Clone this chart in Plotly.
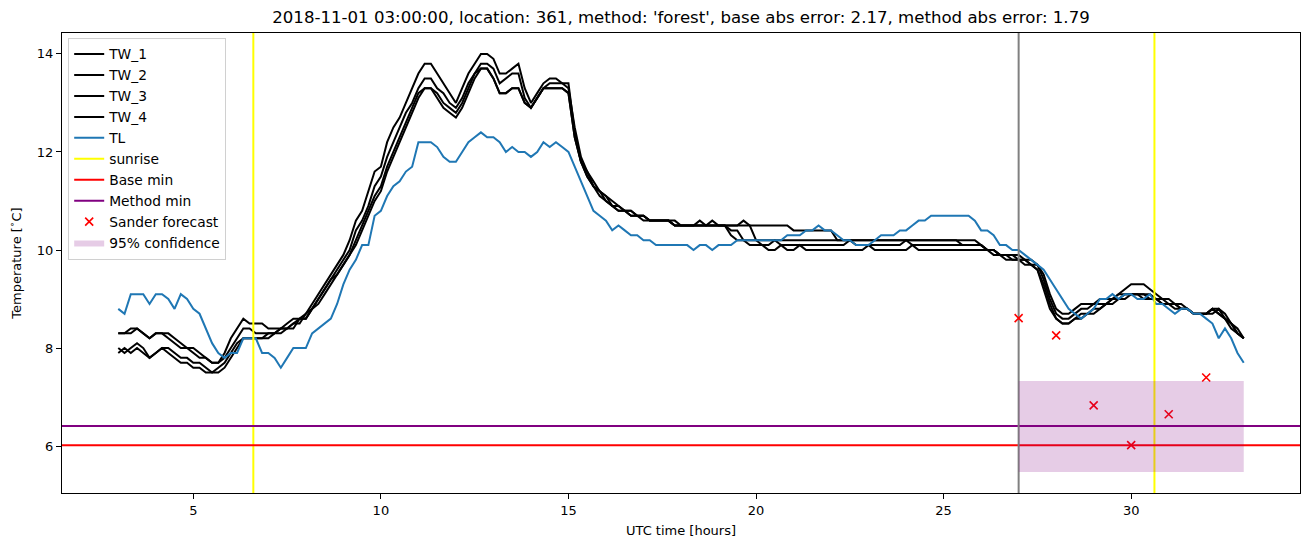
import plotly.graph_objects as go

# ---- time axis: 10-minute samples from 03:00 to 33:00 UTC hours ----
t_start = 3.0
t_step_min = 10

TL = [
    8.8, 8.7, 9.1, 9.1, 9.1, 8.9,
    9.1, 9.1, 9.0, 8.8, 9.1, 9.0,
    8.8, 8.7, 8.4, 8.1, 7.9, 7.8,
    7.9, 7.9, 8.2, 8.2, 8.2, 7.9,
    7.9, 7.8, 7.6, 7.8, 8.0, 8.0,
    8.0, 8.3, 8.4, 8.5, 8.6, 8.9,
    9.3, 9.6, 9.8, 10.1, 10.1, 10.7,
    10.8, 11.1, 11.3, 11.4, 11.6, 11.7,
    12.2, 12.2, 12.2, 12.1, 11.9, 11.8,
    11.8, 12.0, 12.2, 12.3, 12.4, 12.3,
    12.3, 12.2, 12.0, 12.1, 12.0, 12.0,
    11.9, 12.0, 12.2, 12.1, 12.2, 12.1,
    12.0, 11.7, 11.4, 11.1, 10.8, 10.7,
    10.6, 10.4, 10.5, 10.4, 10.3, 10.3,
    10.2, 10.2, 10.1, 10.1, 10.1, 10.1,
    10.1, 10.1, 10.0, 10.1, 10.1, 10.0,
    10.1, 10.1, 10.1, 10.2, 10.2, 10.2,
    10.2, 10.2, 10.2, 10.2, 10.2, 10.3,
    10.3, 10.3, 10.4, 10.4, 10.5, 10.4,
    10.4, 10.3, 10.2, 10.2, 10.1, 10.1,
    10.1, 10.2, 10.3, 10.3, 10.3, 10.4,
    10.4, 10.5, 10.6, 10.6, 10.7, 10.7,
    10.7, 10.7, 10.7, 10.7, 10.7, 10.6,
    10.4, 10.4, 10.3, 10.1, 10.1, 10.0,
    10.0, 9.9, 9.8, 9.7, 9.6, 9.4,
    9.2, 9.0, 8.8, 8.7, 8.6, 8.7,
    8.8, 9.0, 9.0, 9.1, 9.0, 9.1,
    9.1, 9.0, 9.0, 9.1, 8.9, 8.9,
    8.8, 8.7, 8.8, 8.8, 8.7, 8.7,
    8.6, 8.5, 8.2, 8.4, 8.2, 7.9,
    7.7,
]

TW_1 = [
    8.3, 8.3, 8.3, 8.4, 8.3, 8.2,
    8.3, 8.3, 8.2, 8.1, 8.0, 8.0,
    7.9, 7.8, 7.8, 7.7, 7.7, 7.9,
    8.2, 8.4, 8.6, 8.5, 8.5, 8.5,
    8.4, 8.4, 8.4, 8.5, 8.6, 8.6,
    8.7, 8.9, 9.1, 9.3, 9.5, 9.7,
    9.9, 10.2, 10.6, 10.8, 11.2, 11.6,
    11.7, 12.2, 12.5, 12.7, 13.0, 13.3,
    13.6, 13.8, 13.8, 13.6, 13.4, 13.2,
    13.0, 13.3, 13.6, 13.8, 14.0, 14.0,
    13.9, 13.6, 13.6, 13.7, 13.8, 13.3,
    13.0, 13.2, 13.4, 13.5, 13.5, 13.4,
    13.4, 12.4, 11.8, 11.6, 11.3, 11.2,
    11.1, 10.9, 10.9, 10.8, 10.8, 10.7,
    10.7, 10.6, 10.6, 10.6, 10.6, 10.5,
    10.5, 10.5, 10.5, 10.6, 10.5, 10.5,
    10.5, 10.5, 10.5, 10.5, 10.6, 10.5,
    10.5, 10.5, 10.5, 10.5, 10.5, 10.5,
    10.4, 10.4, 10.4, 10.4, 10.4, 10.4,
    10.4, 10.2, 10.2, 10.2, 10.2, 10.2,
    10.2, 10.2, 10.2, 10.2, 10.2, 10.2,
    10.2, 10.2, 10.2, 10.2, 10.2, 10.2,
    10.2, 10.2, 10.2, 10.2, 10.2, 10.2,
    10.1, 10.0, 10.0, 9.9, 9.9, 9.9,
    9.8, 9.8, 9.7, 9.6, 9.2, 8.8,
    8.6, 8.5, 8.5, 8.6, 8.7, 8.7,
    8.8, 8.8, 8.9, 9.0, 9.1, 9.2,
    9.3, 9.3, 9.3, 9.2, 9.1, 9.0,
    9.0, 8.9, 8.9, 8.8, 8.7, 8.7,
    8.7, 8.8, 8.7, 8.6, 8.4, 8.3,
    8.2,
]

TW_2 = [
    8.3, 8.3, 8.4, 8.4, 8.3, 8.2,
    8.3, 8.3, 8.3, 8.2, 8.1, 8.0,
    8.0, 7.9, 7.8, 7.7, 7.7, 7.8,
    8.0, 8.2, 8.4, 8.4, 8.3, 8.3,
    8.3, 8.3, 8.4, 8.4, 8.5, 8.6,
    8.6, 8.8, 9.0, 9.2, 9.4, 9.6,
    9.8, 10.0, 10.4, 10.6, 10.9, 11.3,
    11.5, 11.9, 12.2, 12.5, 12.8, 13.0,
    13.3, 13.5, 13.5, 13.3, 13.2, 13.0,
    12.9, 13.1, 13.4, 13.6, 13.8, 13.8,
    13.7, 13.4, 13.5, 13.6, 13.6, 13.1,
    12.9, 13.1, 13.3, 13.4, 13.4, 13.4,
    13.3, 12.5, 11.9, 11.6, 11.4, 11.2,
    11.1, 11.0, 10.9, 10.8, 10.8, 10.7,
    10.7, 10.6, 10.6, 10.6, 10.6, 10.5,
    10.5, 10.5, 10.5, 10.5, 10.5, 10.6,
    10.5, 10.5, 10.4, 10.4, 10.2, 10.2,
    10.2, 10.2, 10.2, 10.2, 10.2, 10.2,
    10.2, 10.2, 10.2, 10.2, 10.2, 10.2,
    10.2, 10.2, 10.2, 10.2, 10.2, 10.2,
    10.2, 10.2, 10.2, 10.2, 10.2, 10.2,
    10.2, 10.2, 10.2, 10.2, 10.2, 10.2,
    10.2, 10.2, 10.2, 10.1, 10.1, 10.1,
    10.1, 10.0, 10.0, 9.9, 9.8, 9.8,
    9.8, 9.8, 9.7, 9.7, 9.4, 9.0,
    8.7, 8.6, 8.6, 8.7, 8.8, 8.8,
    8.9, 8.9, 8.9, 9.0, 9.0, 9.1,
    9.1, 9.1, 9.1, 9.1, 9.0, 9.0,
    8.9, 8.9, 8.8, 8.8, 8.7, 8.7,
    8.7, 8.8, 8.8, 8.6, 8.5, 8.3,
    8.2,
]

TW_3 = [
    8.0, 7.9, 8.0, 8.1, 8.0, 7.8,
    7.9, 8.0, 8.0, 7.9, 7.8, 7.8,
    7.7, 7.7, 7.6, 7.5, 7.6, 7.7,
    7.9, 8.1, 8.2, 8.2, 8.2, 8.2,
    8.2, 8.3, 8.3, 8.4, 8.5, 8.5,
    8.7, 8.8, 9.0, 9.2, 9.4, 9.5,
    9.7, 9.9, 10.2, 10.5, 10.8, 11.1,
    11.3, 11.7, 12.0, 12.3, 12.6, 12.9,
    13.2, 13.3, 13.3, 13.2, 13.0, 12.9,
    12.8, 13.0, 13.3, 13.6, 13.7, 13.7,
    13.5, 13.2, 13.2, 13.3, 13.3, 13.0,
    12.9, 13.1, 13.3, 13.3, 13.3, 13.3,
    13.2, 12.3, 11.8, 11.5, 11.3, 11.2,
    11.0, 10.9, 10.8, 10.8, 10.7, 10.7,
    10.7, 10.6, 10.6, 10.6, 10.6, 10.5,
    10.5, 10.5, 10.5, 10.5, 10.5, 10.5,
    10.5, 10.5, 10.3, 10.2, 10.2, 10.1,
    10.1, 10.1, 10.1, 10.2, 10.1, 10.1,
    10.1, 10.1, 10.1, 10.1, 10.1, 10.1,
    10.1, 10.1, 10.1, 10.2, 10.1, 10.1,
    10.1, 10.1, 10.1, 10.1, 10.1, 10.1,
    10.2, 10.1, 10.1, 10.1, 10.1, 10.1,
    10.1, 10.1, 10.1, 10.1, 10.1, 10.1,
    10.1, 10.0, 9.9, 9.9, 9.9, 9.8,
    9.8, 9.7, 9.7, 9.6, 9.3, 8.9,
    8.6, 8.5, 8.5, 8.6, 8.6, 8.7,
    8.7, 8.8, 8.9, 8.9, 9.0, 9.0,
    9.1, 9.1, 9.1, 9.0, 9.0, 8.9,
    8.9, 8.9, 8.8, 8.8, 8.7, 8.7,
    8.7, 8.7, 8.8, 8.7, 8.5, 8.4,
    8.2,
]

TW_4 = [
    7.9, 8.0, 7.9, 8.0, 7.9, 7.8,
    7.9, 8.0, 7.9, 7.8, 7.7, 7.7,
    7.6, 7.6, 7.5, 7.5, 7.5, 7.6,
    7.8, 8.0, 8.2, 8.2, 8.2, 8.2,
    8.3, 8.3, 8.4, 8.4, 8.4, 8.6,
    8.6, 8.8, 8.9, 9.1, 9.3, 9.5,
    9.7, 9.9, 10.1, 10.4, 10.7, 11.0,
    11.2, 11.6, 11.9, 12.2, 12.5, 12.8,
    13.1, 13.3, 13.3, 13.1, 12.9, 12.8,
    12.7, 12.9, 13.2, 13.5, 13.7, 13.7,
    13.5, 13.2, 13.2, 13.3, 13.3, 13.0,
    12.9, 13.1, 13.3, 13.3, 13.3, 13.3,
    13.2, 12.3, 11.8, 11.5, 11.3, 11.1,
    11.0, 10.9, 10.8, 10.8, 10.7, 10.7,
    10.6, 10.6, 10.6, 10.6, 10.6, 10.6,
    10.5, 10.5, 10.5, 10.5, 10.5, 10.5,
    10.5, 10.5, 10.5, 10.5, 10.5, 10.5,
    10.2, 10.1, 10.0, 10.0, 10.1, 10.0,
    10.0, 10.1, 10.0, 10.0, 10.0, 10.0,
    10.0, 10.0, 10.0, 10.0, 10.0, 10.0,
    10.1, 10.0, 10.0, 10.0, 10.0, 10.0,
    10.0, 10.1, 10.0, 10.0, 10.0, 10.0,
    10.0, 10.0, 10.0, 10.0, 10.0, 10.0,
    10.0, 10.0, 10.0, 9.9, 9.9, 9.9,
    9.9, 9.8, 9.8, 9.7, 9.5, 9.1,
    8.8, 8.7, 8.7, 8.8, 8.9, 8.9,
    8.9, 9.0, 9.0, 9.0, 9.1, 9.1,
    9.1, 9.1, 9.0, 9.0, 9.0, 8.9,
    8.9, 8.8, 8.8, 8.8, 8.7, 8.7,
    8.7, 8.8, 8.7, 8.6, 8.5, 8.3,
    8.2,
]

# ---- event markers ----
sunrise_hours = [6.6, 30.62]
forecast_time = 27.0
base_min = 6.02
method_min = 6.41

# ---- Sander forecast points ----
forecast_hours = [27, 28, 29, 30, 31, 32]
forecast_temps = [8.61, 8.26, 6.83, 6.02, 6.65, 7.40]

# ---- 95% confidence band ----
conf_start = 27.0
conf_end = 33.0
conf_low = 5.47
conf_high = 7.33

title_text = ("2018-11-01 03:00:00, location: 361, method: 'forest', "
              "base abs error: 2.17, method abs error: 1.79")

# ---------------------------------------------------------------
times = [t_start + i * t_step_min / 60.0 for i in range(len(TL))]

all_y = TL + TW_1 + TW_2 + TW_3 + TW_4 + [conf_low, conf_high] + forecast_temps
y_lo, y_hi = min(all_y), max(all_y)
y_pad = 0.05 * (y_hi - y_lo)
y_range = [y_lo - y_pad, y_hi + y_pad]
x_lo, x_hi = times[0], times[-1]
x_pad = 0.05 * (x_hi - x_lo)
x_range = [x_lo - x_pad, x_hi + x_pad]

fig = go.Figure()

for name, ser in [("TW_1", TW_1), ("TW_2", TW_2), ("TW_3", TW_3), ("TW_4", TW_4)]:
    fig.add_trace(go.Scatter(x=times, y=ser, mode="lines", name=name,
                             line=dict(color="black", width=2)))

fig.add_trace(go.Scatter(x=times, y=TL, mode="lines", name="TL",
                         line=dict(color="#1f77b4", width=2)))

# sunrise vertical lines (one legend entry)
sx, sy = [], []
for s in sunrise_hours:
    sx += [s, s, None]
    sy += [y_range[0], y_range[1], None]
fig.add_trace(go.Scatter(x=sx, y=sy, mode="lines", name="sunrise",
                         line=dict(color="yellow", width=2)))

fig.add_trace(go.Scatter(x=x_range, y=[base_min, base_min], mode="lines",
                         name="Base min", line=dict(color="red", width=2)))
fig.add_trace(go.Scatter(x=x_range, y=[method_min, method_min], mode="lines",
                         name="Method min", line=dict(color="purple", width=2)))

# forecast time (grey, no legend)
fig.add_trace(go.Scatter(x=[forecast_time, forecast_time], y=y_range, mode="lines",
                         showlegend=False, line=dict(color="grey", width=2),
                         hoverinfo="skip"))

fig.add_trace(go.Scatter(x=forecast_hours, y=forecast_temps, mode="markers",
                         name="Sander forecast",
                         marker=dict(symbol="x-thin", size=8, color="red",
                                     line=dict(color="red", width=1.6))))

fig.add_trace(go.Scatter(x=[conf_start, conf_end, conf_end, conf_start, conf_start],
                         y=[conf_low, conf_low, conf_high, conf_high, conf_low],
                         mode="lines", fill="toself", name="95% confidence",
                         fillcolor="rgba(128,0,128,0.2)",
                         line=dict(width=0, color="rgba(128,0,128,0)")))

font_family = "DejaVu Sans"
axis_common = dict(showgrid=False, zeroline=False, showline=True, mirror=True,
                   linecolor="black", linewidth=1, ticks="outside", ticklen=5,
                   tickwidth=1, tickcolor="black",
                   tickfont=dict(family=font_family, size=13, color="black"))

fig.update_layout(
    width=1310, height=547,
    margin=dict(l=62, r=10, t=33, b=54),
    paper_bgcolor="white", plot_bgcolor="white",
    font=dict(family=font_family, color="black"),
    title=dict(text=title_text, x=0.5, xref="paper", y=1 - 17 / 547,
               yanchor="middle", xanchor="center",
               font=dict(family=font_family, size=16.6, color="black")),
    xaxis=dict(range=x_range, tickvals=[5, 10, 15, 20, 25, 30],
               title=dict(text="UTC time [hours]", standoff=9,
                          font=dict(family=font_family, size=13)),
               **axis_common),
    yaxis=dict(range=y_range, tickvals=[6, 8, 10, 12, 14],
               title=dict(text="Temperature [<sup>∘</sup>C]", standoff=12,
                          font=dict(family=font_family, size=13)),
               **axis_common),
    legend=dict(x=0.005, y=0.99, xanchor="left", yanchor="top",
                bgcolor="rgba(255,255,255,0.8)", bordercolor="#d0d0d0",
                borderwidth=1, font=dict(family=font_family, size=13.8),
                tracegroupgap=0),
    showlegend=True,
)

fig.write_html("out.html")
